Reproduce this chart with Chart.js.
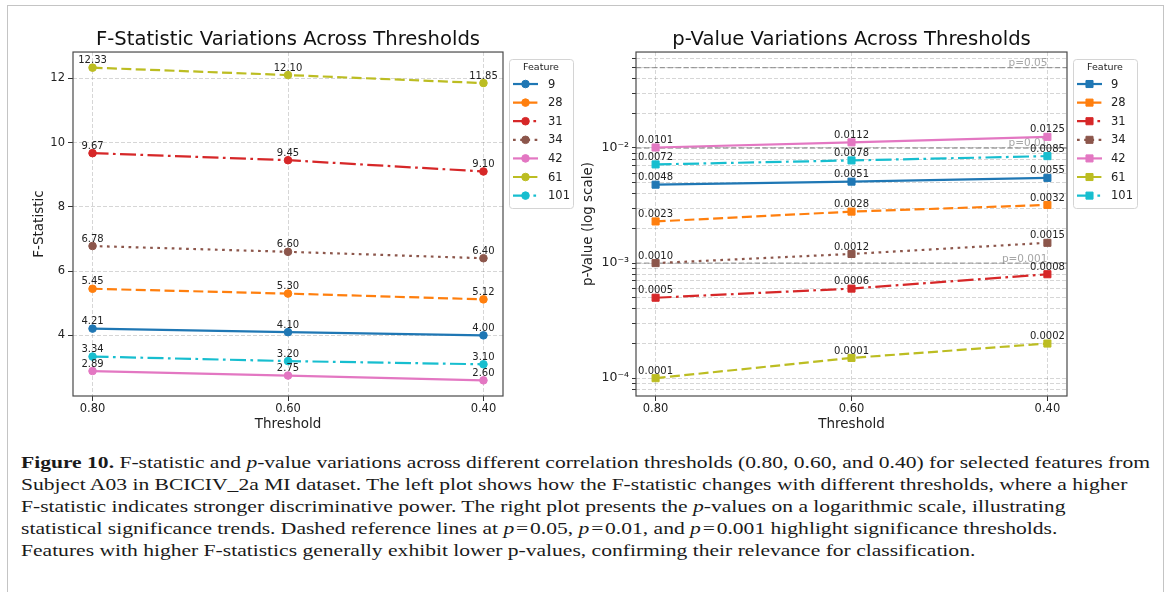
<!DOCTYPE html>
<html>
<head>
<meta charset="utf-8">
<script src="https://cdn.jsdelivr.net/npm/chart.js@4.4.1/dist/chart.umd.min.js"></script>
<style>
html,body{margin:0;padding:0;background:#fff;width:1170px;height:592px;overflow:hidden;position:relative;}
#frame{position:absolute;left:7px;top:5px;width:1155px;height:620px;border:1.5px solid #c4c4c4;border-bottom:none;}
#w1{position:absolute;left:0;top:0;width:590px;height:440px;}
#w2{position:absolute;left:560px;top:0;width:610px;height:440px;}
#caption{position:absolute;left:21px;top:451px;font-family:"Liberation Serif","Times New Roman",serif;font-size:17.5px;line-height:22px;color:#1a1a1a;white-space:nowrap;transform-origin:0 0;}
#caption div{display:block;width:max-content;}
</style>
</head>
<body>
<div id="frame"></div>
<div id="w1"><canvas id="c1" width="590" height="440"></canvas></div>
<div id="w2"><canvas id="c2" width="610" height="440"></canvas></div>
<div id="caption">
<div id="cap1"><b>Figure 10.</b> F-statistic and <i>p</i>-value variations across different correlation thresholds (0.80, 0.60, and 0.40) for selected features from</div>
<div>Subject A03 in BCICIV_2a MI dataset. The left plot shows how the F-statistic changes with different thresholds, where a higher</div>
<div>F-statistic indicates stronger discriminative power. The right plot presents the <i>p</i>-values on a logarithmic scale, illustrating</div>
<div>statistical significance trends. Dashed reference lines at <i>p</i>&#8202;=&#8202;0.05, <i>p</i>&#8202;=&#8202;0.01, and <i>p</i>&#8202;=&#8202;0.001 highlight significance thresholds.</div>
<div>Features with higher F-statistics generally exhibit lower p-values, confirming their relevance for classification.</div>
</div>
<script>
// ---------------- data ----------------
const thresholds = ['0.80', '0.60', '0.40'];
const featureIds = ['9', '28', '31', '34', '42', '61', '101'];

// F-statistic for each feature at thresholds 0.80, 0.60, 0.40
const fStat9   = [4.21, 4.10, 4.00];
const fStat28  = [5.45, 5.30, 5.12];
const fStat31  = [9.67, 9.45, 9.10];
const fStat34  = [6.78, 6.60, 6.40];
const fStat42  = [2.89, 2.75, 2.60];
const fStat61  = [12.33, 12.10, 11.85];
const fStat101 = [3.34, 3.20, 3.10];

// p-values for each feature at thresholds 0.80, 0.60, 0.40
const pVal9   = [0.0048, 0.0051, 0.0055];
const pVal28  = [0.0023, 0.0028, 0.0032];
const pVal31  = [0.0005, 0.0006, 0.0008];
const pVal34  = [0.0010, 0.0012, 0.0015];
const pVal42  = [0.0101, 0.0112, 0.0125];
const pVal61  = [0.0001, 0.00015, 0.0002];
const pVal101 = [0.0072, 0.0078, 0.0085];

// reference significance lines
const refPValues = [0.05, 0.01, 0.001];
const refLabels  = ['p=0.05', 'p=0.01', 'p=0.001'];

// tick labels
const fTickValues = [4, 6, 8, 10, 12];
const pMajorTicks = [1e-4, 1e-3, 1e-2];
const pMajorLabels = ['10\u207B\u2074', '10\u207B\u00B3', '10\u207B\u00B2'];

// ---------------- styles ----------------
const seriesColors = ['#1f77b4', '#ff7f0e', '#d62728', '#8c564b', '#e377c2', '#bcbd22', '#17becf'];
const DASH = { solid: [], dashed: [10, 4.4], dashdot: [16, 4.4, 2.7, 4.4], dotted: [2.7, 4.5] };
const seriesDash = [DASH.solid, DASH.dashed, DASH.dashdot, DASH.dotted, DASH.solid, DASH.dashed, DASH.dashdot];
const FONT = '"DejaVu Sans", Verdana, sans-serif';
const GRID = 'rgba(0,0,0,0.16)';
const TXT = '#222';

Chart.defaults.font.family = FONT;
Chart.defaults.color = TXT;

const fSeries = [fStat9, fStat28, fStat31, fStat34, fStat42, fStat61, fStat101];
const pSeries = [pVal9, pVal28, pVal31, pVal34, pVal42, pVal61, pVal101];

function makeDatasets(seriesList, pointStyle, radius) {
  return featureIds.map((id, k) => ({
    label: id,
    data: seriesList[k].map((v, i) => ({ x: i, y: v })),
    borderColor: seriesColors[k],
    backgroundColor: seriesColors[k],
    borderWidth: 2.2,
    borderDash: seriesDash[k],
    pointStyle: pointStyle,
    pointRadius: radius,
    pointHoverRadius: radius,
    pointBorderWidth: 1,
    pointBackgroundColor: seriesColors[k],
    pointBorderColor: seriesColors[k],
    tension: 0,
    fill: false,
    clip: false
  }));
}

// ---------------- plugins ----------------
function framePlugin() {
  return {
    id: 'frame',
    afterDraw(chart) {
      const a = chart.chartArea, ctx = chart.ctx;
      ctx.save();
      ctx.strokeStyle = '#4a4a4a';
      ctx.lineWidth = 1.2;
      ctx.setLineDash([]);
      ctx.strokeRect(a.left, a.top, a.right - a.left, a.bottom - a.top);
      ctx.restore();
    }
  };
}

function dataLabelPlugin(fmt) {
  return {
    id: 'dataLabels',
    afterDatasetsDraw(chart) {
      const ctx = chart.ctx;
      ctx.save();
      ctx.font = '10px ' + FONT;
      ctx.fillStyle = TXT;
      ctx.textAlign = 'center';
      ctx.textBaseline = 'middle';
      chart.data.datasets.forEach((ds, i) => {
        const meta = chart.getDatasetMeta(i);
        meta.data.forEach((pt, j) => {
          ctx.fillText(fmt(ds.data[j].y), pt.x, pt.y - 7);
        });
      });
      ctx.restore();
    }
  };
}

function drawMarker(ctx, style, x, y, r) {
  ctx.beginPath();
  if (style === 'rect') {
    const s = Math.SQRT1_2 * r;
    ctx.rect(x - s, y - s, 2 * s, 2 * s);
  } else {
    ctx.arc(x, y, r, 0, Math.PI * 2);
  }
  ctx.fill();
  ctx.stroke();
}

function legendPlugin(labelDx) {
  return {
    id: 'featureLegend',
    afterDraw(chart) {
      const ctx = chart.ctx, a = chart.chartArea;
      const bx = a.right + 6, by = a.top + 7, bw = 64, bh = 149;
      ctx.save();
      ctx.setLineDash([]);
      ctx.beginPath();
      if (ctx.roundRect) ctx.roundRect(bx + 0.5, by + 0.5, bw, bh, 3); else ctx.rect(bx + 0.5, by + 0.5, bw, bh);
      ctx.fillStyle = 'rgba(255,255,255,0.85)';
      ctx.fill();
      ctx.strokeStyle = '#d4d4d4';
      ctx.lineWidth = 1;
      ctx.stroke();
      ctx.fillStyle = TXT;
      ctx.font = '9.5px ' + FONT;
      ctx.textAlign = 'center';
      ctx.textBaseline = 'middle';
      ctx.fillText('Feature', bx + bw / 2, by + 8.5);
      chart.data.datasets.forEach((ds, k) => {
        const y = by + 25 + k * 18.6;
        ctx.strokeStyle = ds.borderColor;
        ctx.lineWidth = ds.borderWidth;
        ctx.setLineDash(ds.borderDash);
        ctx.beginPath();
        ctx.moveTo(bx + 4, y);
        ctx.lineTo(bx + 29, y);
        ctx.stroke();
        ctx.setLineDash([]);
        ctx.fillStyle = ds.pointBackgroundColor;
        ctx.strokeStyle = ds.pointBorderColor;
        ctx.lineWidth = 1;
        drawMarker(ctx, ds.pointStyle, bx + 16.5, y, ds.pointRadius);
        ctx.fillStyle = TXT;
        ctx.font = '11.5px ' + FONT;
        ctx.textAlign = 'left';
        ctx.fillText(ds.label, bx + labelDx, y + 0.5);
      });
      ctx.restore();
    }
  };
}

const refLinePlugin = {
  id: 'refLines',
  beforeDatasetsDraw(chart) {
    const ctx = chart.ctx, a = chart.chartArea;
    const ys = chart.scales.y, xs = chart.scales.x;
    ctx.save();
    refPValues.forEach((v, i) => {
      const y = ys.getPixelForValue(v);
      ctx.strokeStyle = 'rgba(128,128,128,0.75)';
      ctx.lineWidth = 1.3;
      ctx.setLineDash([5.5, 2.4]);
      ctx.beginPath();
      ctx.moveTo(a.left, y);
      ctx.lineTo(a.right, y);
      ctx.stroke();
      ctx.setLineDash([]);
      ctx.fillStyle = 'rgba(128,128,128,0.7)';
      ctx.font = '10.5px ' + FONT;
      ctx.textAlign = 'right';
      ctx.textBaseline = 'bottom';
      ctx.fillText(refLabels[i], xs.getPixelForValue(thresholds.length - 1), y + 1);
    });
    ctx.restore();
  }
};

// ---------------- shared axis helpers ----------------
const nCat = thresholds.length;
const xMin = -0.05 * (nCat - 1);
const xMax = (nCat - 1) * 1.05;

function xScale(height) {
  return {
    type: 'linear',
    min: xMin,
    max: xMax,
    afterBuildTicks(scale) { scale.ticks = thresholds.map((t, i) => ({ value: i })); },
    afterFit(scale) { scale.height = height; },
    ticks: { autoSkip: false, maxRotation: 0, padding: 1, font: { size: 11.5 }, color: TXT,
             callback: (v) => thresholds[v] !== undefined ? thresholds[v] : '' },
    grid: { color: GRID, lineWidth: 1, drawTicks: true, tickLength: 5, tickColor: '#333', tickBorderDash: [], tickWidth: 1 },
    border: { display: false, dash: [4, 2] },
    title: { display: true, text: 'Threshold', font: { size: 13.5 }, color: TXT, padding: { top: 0, bottom: 7.9 } }
  };
}

// ---------------- left chart: F-statistic ----------------
const allF = fSeries.flat();
const fLo = Math.min(...allF), fHi = Math.max(...allF);
const fPad = 0.05 * (fHi - fLo);

new Chart(document.getElementById('c1'), {
  type: 'line',
  data: { datasets: makeDatasets(fSeries, 'circle', 3.8) },
  options: {
    responsive: false,
    animation: false,
    events: [],
    layout: { padding: { left: 0, top: 0, right: 87, bottom: 0 } },
    plugins: {
      legend: { display: false },
      tooltip: { enabled: false },
      title: { display: true, text: 'F-Statistic Variations Across Thresholds', fullSize: false,
               font: { size: 19.6, weight: 'normal', lineHeight: 1.2 }, color: '#111', padding: { top: 28.2, bottom: 0.3 } }
    },
    scales: {
      x: xScale(44),
      y: {
        type: 'linear',
        min: fLo - fPad,
        max: fHi + fPad,
        afterBuildTicks(scale) { scale.ticks = fTickValues.map(v => ({ value: v })); },
        afterFit(scale) { scale.width = 73; },
        ticks: { autoSkip: false, padding: 3, font: { size: 11.5 }, color: TXT, callback: (v) => String(v) },
        grid: { color: GRID, lineWidth: 1, drawTicks: true, tickLength: 5, tickColor: '#333', tickBorderDash: [], tickWidth: 1 },
        border: { display: false, dash: [4, 2] },
        title: { display: true, text: 'F-Statistic', font: { size: 13.5 }, color: TXT, padding: { top: 31, bottom: 0 } }
      }
    }
  },
  plugins: [dataLabelPlugin(v => v.toFixed(2)), framePlugin(), legendPlugin(39)]
});

// ---------------- right chart: p-values (log) ----------------
const allP = pSeries.flat().concat(refPValues);
const lLo = Math.log10(Math.min(...allP)), lHi = Math.log10(Math.max(...allP));
const lPad = 0.05 * (lHi - lLo);
const pMin = Math.pow(10, lLo - lPad), pMax = Math.pow(10, lHi + lPad);

function logTicks(min, max) {
  const out = [];
  for (let e = Math.floor(Math.log10(min)); e <= Math.ceil(Math.log10(max)); e++) {
    for (let m = 1; m <= 9; m++) {
      const v = m * Math.pow(10, e);
      if (v >= min && v <= max) out.push({ value: v, major: m === 1 });
    }
  }
  return out;
}
function majorLabel(v) {
  for (let i = 0; i < pMajorTicks.length; i++) {
    if (Math.abs(v - pMajorTicks[i]) / pMajorTicks[i] < 1e-6) return pMajorLabels[i];
  }
  return '';
}

new Chart(document.getElementById('c2'), {
  type: 'line',
  data: { datasets: makeDatasets(pSeries, 'rect', 5) },
  options: {
    responsive: false,
    animation: false,
    events: [],
    layout: { padding: { left: 0, top: 0, right: 103, bottom: 0 } },
    plugins: {
      legend: { display: false },
      tooltip: { enabled: false },
      title: { display: true, text: 'p-Value Variations Across Thresholds', fullSize: false,
               font: { size: 19.6, weight: 'normal', lineHeight: 1.2 }, color: '#111', padding: { top: 28.2, bottom: 0.3 } }
    },
    scales: {
      x: xScale(44),
      y: {
        type: 'logarithmic',
        min: pMin,
        max: pMax,
        afterBuildTicks(scale) { scale.ticks = logTicks(pMin, pMax); },
        afterFit(scale) { scale.width = 76; },
        ticks: { autoSkip: false, padding: 3, font: { size: 12.5 }, color: TXT, callback: (v) => majorLabel(v) },
        grid: { color: GRID, lineWidth: 1, drawTicks: true, tickLength: 4, tickColor: '#333', tickBorderDash: [], tickWidth: 1 },
        border: { display: false, dash: [4, 2] },
        title: { display: true, text: 'p-Value (log scale)', font: { size: 13.5 }, color: TXT, padding: { top: 19.9, bottom: 0 } }
      }
    }
  },
  plugins: [refLinePlugin, dataLabelPlugin(v => v.toFixed(4)), framePlugin(), legendPlugin(38)]
});

// ---------------- caption fit ----------------
function fitCaption() {
  const cap = document.getElementById('caption');
  cap.style.transform = 'none';
  const w = document.getElementById('cap1').getBoundingClientRect().width;
  if (w > 0) cap.style.transform = 'scaleX(' + (1129 / w) + ')';
}
fitCaption();
if (document.fonts && document.fonts.ready) document.fonts.ready.then(fitCaption);
</script>
</body>
</html>
